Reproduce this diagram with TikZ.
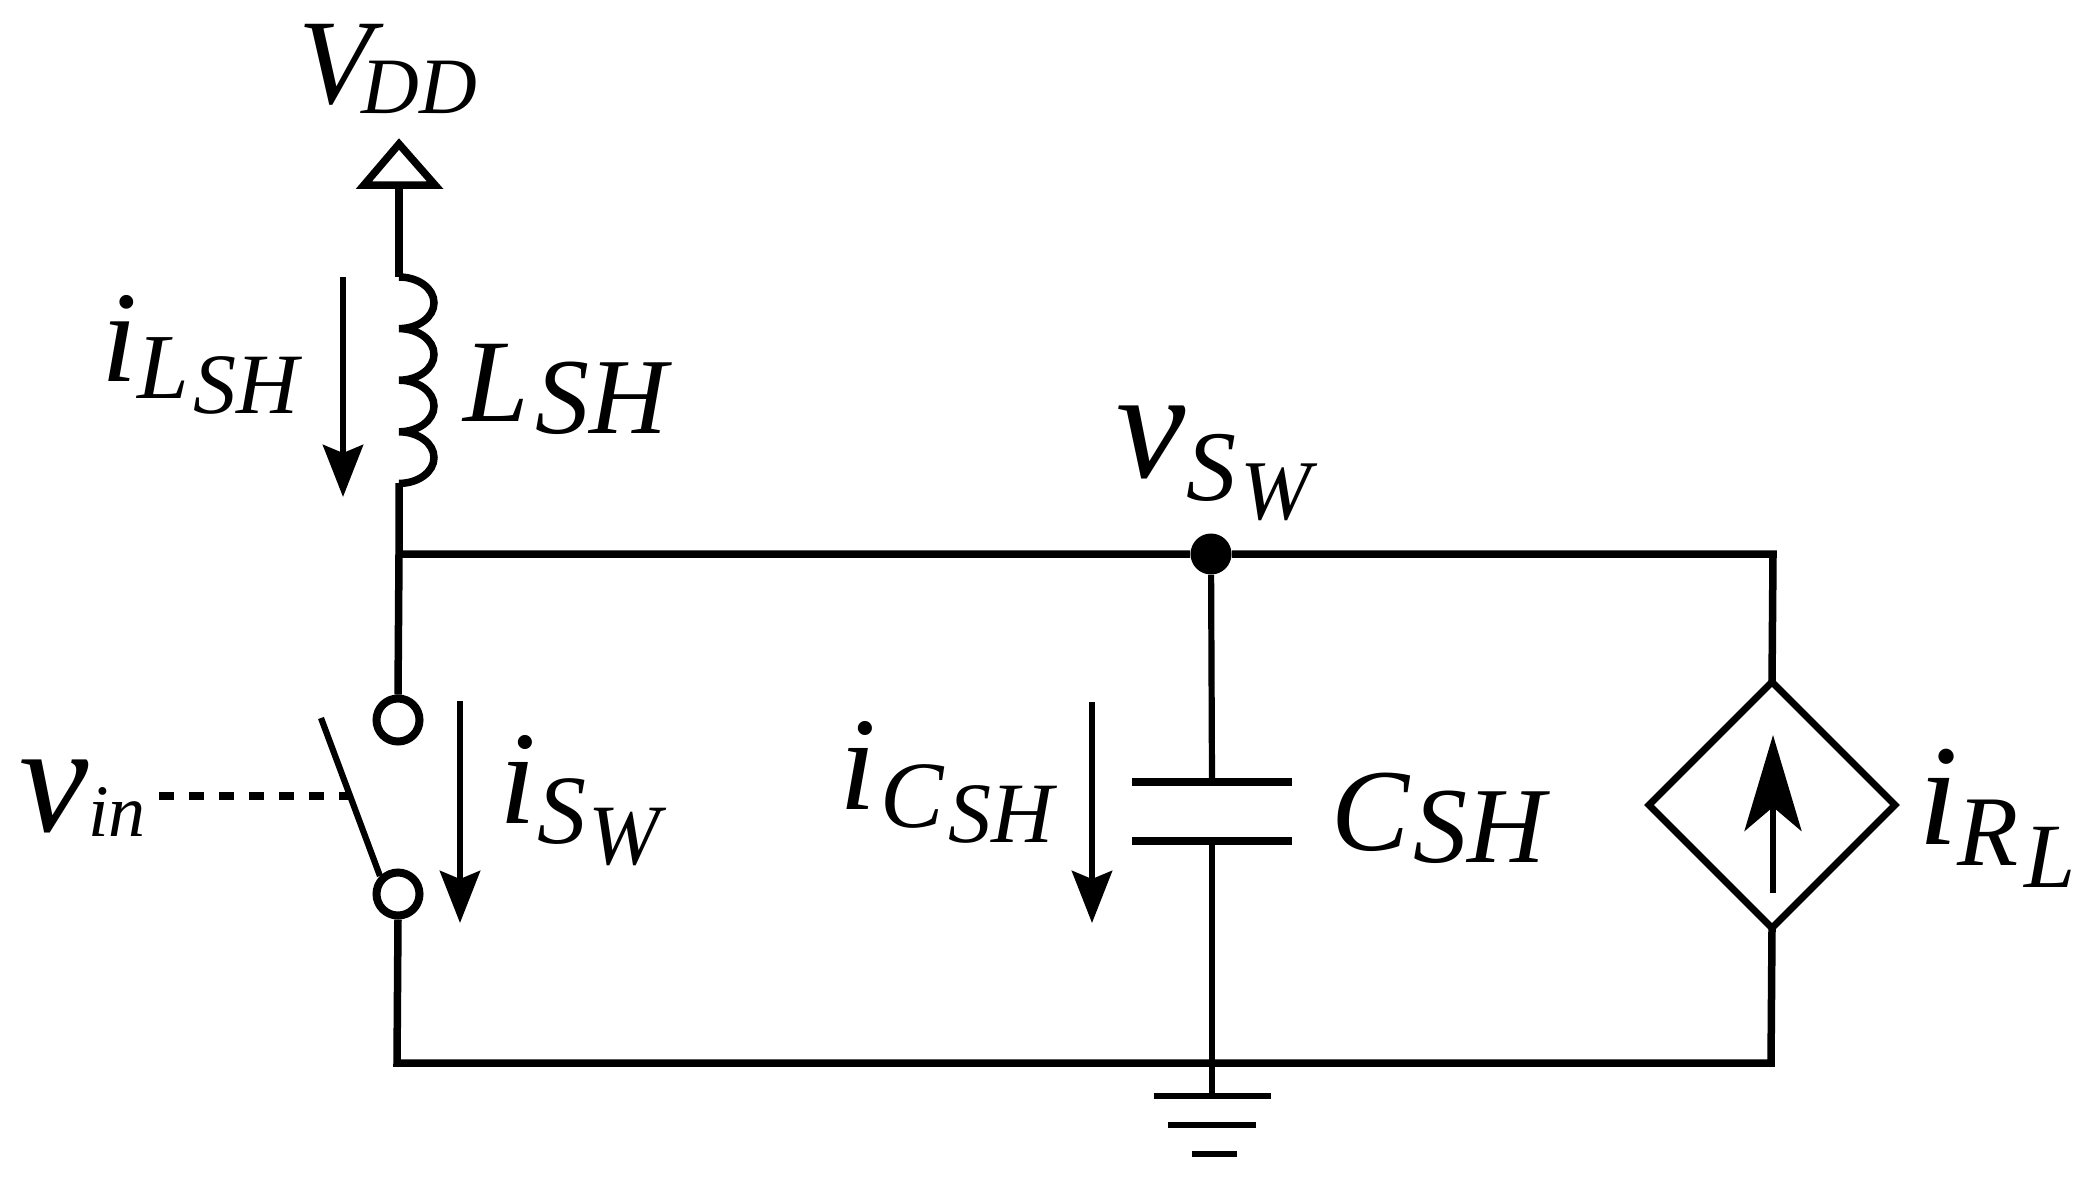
\documentclass[tikz,border=0pt]{standalone}
\usepackage{fontspec}
\setmainfont{Liberation Serif}
\usetikzlibrary{arrows.meta,shapes.geometric}
\newdimen\pxu \pxu=0.5pt
\newcommand\sz[1]{\fontsize{#1}{#1}\selectfont}
\newcommand\low[4]{\kern#2\pxu\raisebox{-#1\pxu}{\sz{#3}#4}}
\tikzset{
  wire/.style={line width=3.75pt,line join=miter},
  thin wire/.style={line width=3.1pt},
  plate/.style={line width=4pt},
  gnd/.style={line width=3pt},
  lab/.style={anchor=base west,inner sep=0pt,outer sep=0pt,font=\itshape},
  term/.style={circle,draw,line width=4pt,fill=white,minimum size=21.5pt,inner sep=0pt},
  cur/.style={line width=3.25pt,-{Stealth[length=26pt,width=20pt,inset=4pt]}},
}
\begin{document}
\begin{tikzpicture}[x=0.5pt,y=-0.5pt]
\useasboundingbox (0,0) rectangle (2096,1184);
% named points
\coordinate (tipL) at (364,185);
\coordinate (tipT) at (399,144);
\coordinate (tipR) at (435,185);
\coordinate (tipB) at (399,185);
\coordinate (lt) at (399,277);
\coordinate (lb) at (399,483);
\coordinate (j1) at (399,554);
\coordinate (cr) at (1773,554);
\coordinate (bl) at (397,1063);
\coordinate (br) at (1771,1063);
\coordinate (capT) at (1212,782);
\coordinate (capB) at (1212,841);
\coordinate (g1) at (1212,1096);
\node[term] (swt) at (398,720) {};
\node[term] (swb) at (398,894) {};
\node[circle,fill=black,minimum size=20.5pt,inner sep=0pt] (dot) at (1211,554) {};
\node[diamond,draw,line width=3.4pt,aspect=1,minimum width=123pt,minimum height=123pt,inner sep=0pt,outer sep=0pt] (src) at (1772,805) {};
% supply
\draw[wire] (tipB) -- (lt);
\draw[wire] (tipL) -- (tipT) -- (tipR) -- cycle;
% inductor
\draw[line width=3.75pt] (lt)
  arc[start angle=90,end angle=-90,x radius=17.5pt,y radius=12.9pt]
  arc[start angle=90,end angle=-90,x radius=17.5pt,y radius=12.9pt]
  arc[start angle=90,end angle=-90,x radius=17.5pt,y radius=12.9pt]
  arc[start angle=90,end angle=-90,x radius=17.5pt,y radius=12.9pt];
\draw[wire] (lb) -- (j1) -- (swt.north);
% top rail
\draw[wire] (j1) -- (dot) -- (cr) -- (src.north);
% bottom rail
\draw[wire] (swb.south) -- (bl) -- (br) -- (src.south);
% switch
\coordinate (arm) at (321,718);
\coordinate (ctl) at (159,796);
\coordinate (ctlE) at (348,796);
\draw[line width=3.1pt] (arm) -- (swb.north west);
\draw[line width=3.75pt,dash pattern=on 7.5pt off 7.5pt] (ctl) -- (ctlE);
% capacitor
\coordinate (p1a) at (1132,782); \coordinate (p1b) at (1292,782);
\coordinate (p2a) at (1132,841); \coordinate (p2b) at (1292,841);
\draw[plate] (p1a) -- (p1b);
\draw[plate] (p2a) -- (p2b);
\draw[thin wire] (dot) -- (capT);
\draw[thin wire] (capB) -- (g1);
% ground
\coordinate (g1a) at (1154,1096); \coordinate (g1b) at (1271,1096);
\coordinate (g2a) at (1168,1125); \coordinate (g2b) at (1256,1125);
\coordinate (g3a) at (1192,1154); \coordinate (g3b) at (1237,1154);
\draw[gnd] (g1a) -- (g1b);
\draw[gnd] (g2a) -- (g2b);
\draw[gnd] (g3a) -- (g3b);
% current arrows
\coordinate (a1s) at (343,277); \coordinate (a1e) at (343,497);
\coordinate (a2s) at (460,701); \coordinate (a2e) at (460,923);
\coordinate (a3s) at (1092,702); \coordinate (a3e) at (1092,923);
\draw[cur] (a1s) -- (a1e);
\draw[cur] (a2s) -- (a2e);
\draw[cur] (a3s) -- (a3e);
% source arrow
\coordinate (sas) at (1773,893); \coordinate (sae) at (1773,735);
\draw[line width=3pt,-{Stealth[length=48pt,width=28.5pt,inset=12pt]}] (sas) -- (sae);
% labels
\node[lab] (lVDD) at (298,103) {\sz{60.5}V\low{10}{-10}{40}{DD}};
\node[lab] (liL) at (101,381) {\sz{65}i\low{17}{0}{46.5}{L}\low{32}{5}{43}{SH}};
\node[lab] (lL) at (463,421) {\sz{59}L\low{12}{7}{54}{SH}};
\node[lab] (lvin) at (19,831) {\sz{78}v\low{5}{0}{37}{in}};
\node[lab] (liS) at (499,823) {\sz{66.5}i\low{20}{2}{49}{S}\low{41}{2}{43}{W}};
\node[lab] (liC) at (839,809) {\sz{66.5}i\low{18}{5}{47.5}{C}\low{33}{4}{43}{SH}};
\node[lab] (lC) at (1331,850) {\sz{58.5}C\low{12}{4}{54}{SH}};
\node[lab] (liR) at (1918,844) {\sz{72}i\low{21}{-1}{50}{R}\low{43}{6}{46}{L}};
\node[lab] (lvS) at (1116,477) {\sz{78}v\low{23}{1}{50}{S}\low{42}{4}{42.5}{W}};
\end{tikzpicture}
\end{document}
